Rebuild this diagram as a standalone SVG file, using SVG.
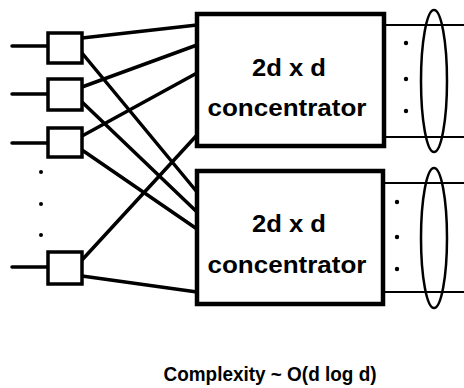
<svg xmlns="http://www.w3.org/2000/svg" width="464" height="388" viewBox="0 0 464 388">
<style>
.conc{fill:#fff;stroke:#000;stroke-width:4.5}
.sw{fill:#fff;stroke:#000;stroke-width:3.5}
.ln{stroke:#000;stroke-width:3.5;fill:none;stroke-linecap:round}
.out{stroke:#000;stroke-width:2.2;fill:none}
.ell{fill:none;stroke:#000;stroke-width:2.5}
.dot{fill:#000}
text{font-family:"Liberation Sans",Arial,sans-serif;font-weight:bold;fill:#000}
.lbl{font-size:23px;text-anchor:middle}
.cx{font-size:20px;text-anchor:middle}
</style>
<rect width="464" height="388" fill="#fff"/>
<g id="connectors">
<line class="ln" x1="12" y1="46" x2="47" y2="46"/>
<line class="ln" x1="12" y1="94" x2="47" y2="94"/>
<line class="ln" x1="12" y1="143" x2="47" y2="143"/>
<line class="ln" x1="12" y1="267" x2="47" y2="267"/>
<line class="ln" x1="82" y1="38" x2="197" y2="25"/>
<line class="ln" x1="82" y1="87" x2="197" y2="45"/>
<line class="ln" x1="82" y1="136" x2="197" y2="73"/>
<line class="ln" x1="82" y1="260" x2="197" y2="135"/>
<line class="ln" x1="82" y1="53" x2="197" y2="192"/>
<line class="ln" x1="82" y1="102" x2="197" y2="212"/>
<line class="ln" x1="82" y1="150" x2="197" y2="229"/>
<line class="ln" x1="82" y1="276" x2="197" y2="292"/>
<line class="out" x1="384" y1="25" x2="464" y2="25"/>
<line class="out" x1="384" y1="137" x2="464" y2="137"/>
<line class="out" x1="383" y1="183" x2="464" y2="183"/>
<line class="out" x1="383" y1="292" x2="464" y2="292"/>
</g>
<g id="sw1"><rect class="sw" x="48" y="33" width="34" height="30"/></g>
<g id="sw2"><rect class="sw" x="48" y="79" width="34" height="31"/></g>
<g id="sw3"><rect class="sw" x="48" y="128" width="34" height="29"/></g>
<g id="sw4"><rect class="sw" x="48" y="252" width="34" height="32"/></g>
<g id="leftdots">
<circle class="dot" cx="41" cy="172" r="2"/>
<circle class="dot" cx="41" cy="204" r="2"/>
<circle class="dot" cx="41" cy="235" r="2"/>
</g>
<g id="conc1">
<rect class="conc" x="197" y="14" width="187" height="132"/>
<text class="lbl" x="289" y="76" textLength="74" lengthAdjust="spacingAndGlyphs">2d x d</text>
<text class="lbl" x="287" y="116" textLength="159" lengthAdjust="spacingAndGlyphs">concentrator</text>
</g>
<g id="conc2">
<rect class="conc" x="197" y="171" width="186" height="133"/>
<text class="lbl" x="289" y="232" textLength="74" lengthAdjust="spacingAndGlyphs">2d x d</text>
<text class="lbl" x="287" y="273" textLength="159" lengthAdjust="spacingAndGlyphs">concentrator</text>
</g>
<g id="out1">
<circle class="dot" cx="406" cy="43" r="2.2"/>
<circle class="dot" cx="406" cy="79" r="2.2"/>
<circle class="dot" cx="406" cy="111" r="2.2"/>
<ellipse class="ell" cx="434" cy="81" rx="13" ry="71"/>
</g>
<g id="out2">
<circle class="dot" cx="397" cy="202" r="2.2"/>
<circle class="dot" cx="397" cy="237" r="2.2"/>
<circle class="dot" cx="397" cy="269" r="2.2"/>
<ellipse class="ell" cx="434" cy="238" rx="13" ry="70"/>
</g>
<g id="caption">
<text class="cx" x="270" y="381" textLength="213" lengthAdjust="spacingAndGlyphs">Complexity ~ O(d log d)</text>
</g>
</svg>
